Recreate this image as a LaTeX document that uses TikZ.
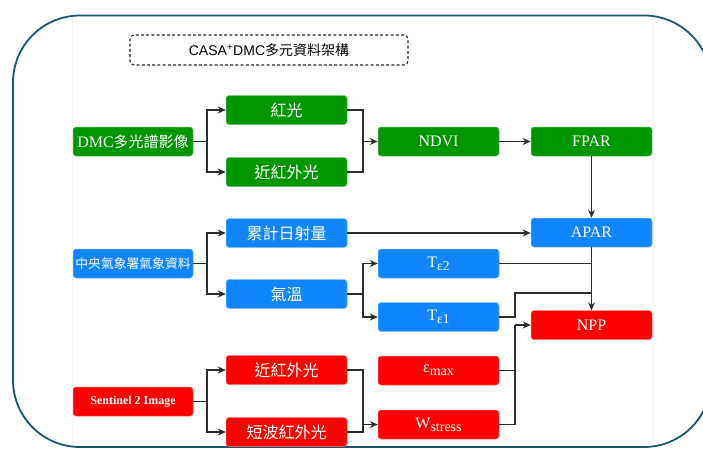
\documentclass[tikz,border=0pt]{standalone}
\usepackage{fontspec}
\setmainfont{Liberation Serif}
\newfontfamily\cjk{Noto Sans CJK TC}
\newfontfamily\lsans{Liberation Sans}
\usetikzlibrary{arrows.meta,calc}
\definecolor{gbox}{RGB}{0,150,0}
\definecolor{bbox}{RGB}{17,133,255}
\definecolor{rbox}{RGB}{255,0,0}
\definecolor{framec}{RGB}{30,85,112}
\definecolor{linec}{RGB}{45,45,45}
\tikzset{
  box/.style={rectangle, rounded corners=3pt, minimum width=121pt, minimum height=29pt,
    inner sep=0pt, text=white, fill=#1, draw=#1!55!white, line width=0.5pt, font=\fontsize{16}{17}\selectfont},
  lbox/.style={box=#1, minimum width=120pt},
  conn/.style={draw=linec, line width=1.6pt},
  arr/.style={conn, -{Stealth[length=8pt,width=7pt]}},
}
\begin{document}
\begin{tikzpicture}[x=1pt,y=-1pt]
\useasboundingbox (0,0) rectangle (703,448);
\begin{scope}
\clip (0,0) rectangle (703,448);
\draw[black!4, line width=0.6pt] (72,17) -- (72,447);
\draw[black!4, line width=0.6pt] (653,17) -- (653,447);
\draw[framec, line width=1.8pt, rounded corners=67pt] (13,15.5) rectangle (711,447);
\end{scope}

% title
\node[draw=black!85, dashed, dash pattern=on 3pt off 2.2pt, line width=1.1pt, rounded corners=4pt,
  minimum width=278pt, minimum height=30pt, inner sep=0pt] (title) at (269,50)
  {\fontsize{14}{15}\selectfont{\lsans CASA\textsuperscript{+}DMC}{\cjk 多元資料架構}};

% green row
\node[lbox=gbox] (dmc) at (133,141.5) {DMC{\cjk\fontsize{15}{16}\selectfont 多光譜影像}};
\node[box=gbox] (red1) at (286.5,110) {\cjk 紅光};
\node[box=gbox] (nir1) at (286.5,172) {\cjk 近紅外光};
\node[box=gbox] (ndvi) at (438.5,141.5) {NDVI};
\node[box=gbox] (fpar) at (591.5,141.5) {FPAR};

% blue row
\node[box=bbox] (apar) at (591.5,232.5) {APAR};
\node[lbox=bbox] (cwb) at (133,263.5) {\cjk\fontsize{12.8}{14}\selectfont 中央氣象署氣象資料};
\node[box=bbox] (rad) at (286.5,233) {\cjk 累計日射量};
\node[box=bbox] (temp) at (286.5,294) {\cjk 氣溫};
\node[box=bbox] (te2) at (438.5,263.5) {T\raisebox{-0.4ex}{\fontsize{13.5}{14}\selectfont ε2}};
\node[box=bbox] (te1) at (438.5,317) {T\raisebox{-0.4ex}{\fontsize{13.5}{14}\selectfont ε1}};

% red row
\node[box=rbox] (npp) at (591.5,325) {NPP};
\node[lbox=rbox] (s2) at (133,401.5) {\bfseries\fontsize{12}{13}\selectfont Sentinel 2 Image};
\node[box=rbox] (nir2) at (286.5,370) {\cjk 近紅外光};
\node[box=rbox] (swir) at (286.5,432) {\cjk 短波紅外光};
\node[box=rbox] (emax) at (438.5,370.5) {ε\raisebox{-0.4ex}{\fontsize{14}{14}\selectfont max}};
\node[box=rbox] (wst) at (438.5,424.5) {W\raisebox{-0.4ex}{\fontsize{14}{14}\selectfont stress}};

% junction coordinates
\coordinate (jn) at (363,141.5);
\coordinate (jt) at (363,294);
\coordinate (jw) at (363,424.5);
\coordinate (jnpp) at (515,325);
\coordinate (jt1a) at (515,317);
\coordinate (jt1b) at (591.5,293);
\coordinate (jt2) at (591.5,263.5);

% green connectors
\draw[arr] (dmc.east) -| ([xshift=-19pt]red1.west) -- (red1.west);
\draw[arr] (dmc.east) -| ([xshift=-19pt]nir1.west) -- (nir1.west);
\draw[conn] (red1.east) -| (jn);
\draw[conn] (nir1.east) -| (jn);
\draw[arr] (jn) -- (ndvi.west);
\draw[arr] (ndvi.east) -- (fpar.west);
\draw[arr] (fpar.south) -- (apar.north);

% blue connectors
\draw[arr] (cwb.east) -| ([xshift=-19pt]rad.west) -- (rad.west);
\draw[arr] (cwb.east) -| ([xshift=-19pt]temp.west) -- (temp.west);
\draw[arr] (rad.east) -- (rad.east -| apar.west);
\draw[conn] (temp.east) -- (jt);
\draw[arr] (jt) |- (te2.west);
\draw[arr] (jt) |- (te1.west);
\draw[arr] (apar.south) -- (npp.north);
\draw[conn] (te2.east) -- (jt2);
\draw[conn] (te1.east) -- (jt1a) |- (jt1b);

% red connectors
\draw[arr] (s2.east) -| ([xshift=-19pt]nir2.west) -- (nir2.west);
\draw[arr] (s2.east) -| ([xshift=-19pt]swir.west) -- (swir.west);
\draw[conn] (nir2.east) -| (jw);
\draw[conn] (swir.east) -| (jw);
\draw[arr] (jw) -- (wst.west);
\draw[conn] (emax.east) -| (jnpp);
\draw[conn] (wst.east) -| (jnpp);
\draw[arr] (jnpp) -- (npp.west);
\end{tikzpicture}
\end{document}
